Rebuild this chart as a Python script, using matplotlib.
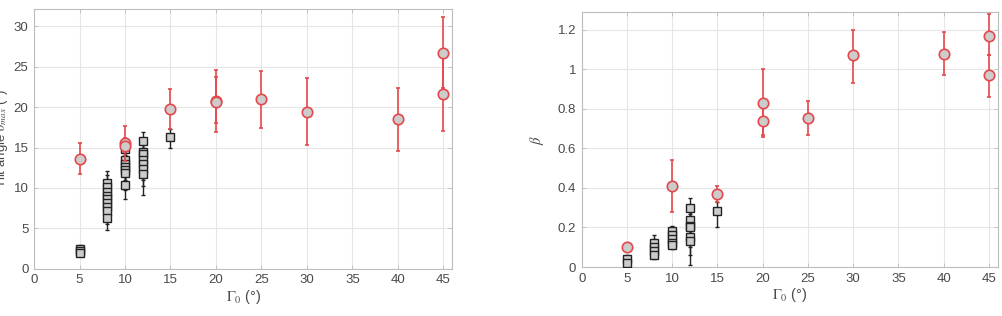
import numpy as np
import matplotlib
matplotlib.use('Agg')
from matplotlib import pyplot as plt
from matplotlib.ticker import FormatStrFormatter

plt.rcParams['font.family'] = ['Liberation Sans', 'DejaVu Sans']
plt.rcParams['mathtext.fontset'] = 'stix'

######################## left panel: tilt angle ########################
# red circles (x, y, lower end, upper end of error bar)
tilt_red_x = [5, 10, 10, 15, 20, 20, 25, 30, 40, 45, 45]
tilt_red_y = [13.6, 15.5, 15.2, 19.8, 20.8, 20.6, 21.0, 19.4, 18.5, 26.7, 21.6]
tilt_red_lo = [11.7, 13.3, 14.4, 17.3, 16.9, 18.0, 17.4, 15.3, 14.6, 22.4, 17.0]
tilt_red_hi = [15.6, 17.7, 16.2, 22.2, 24.6, 23.7, 24.4, 23.6, 22.3, 31.1, 26.2]

# black squares
tilt_blk_x = [5, 5, 5,
              8, 8, 8, 8, 8, 8, 8, 8, 8,
              10, 10, 10, 10, 10, 10, 10,
              12, 12, 12, 12, 12, 12, 12,
              15]
tilt_blk_y = [2.5, 2.2, 2.0,
              10.6, 10.1, 9.5, 9.0, 8.6, 8.2, 7.6, 7.2, 6.3,
              14.8, 13.4, 13.0, 12.6, 12.2, 11.8, 10.4,
              15.8, 14.5, 14.2, 13.5, 13.0, 12.3, 11.7,
              16.3]
tilt_blk_lo = [2.0, 1.9, 1.8,
               9.0, 8.5, 7.9, 7.5, 7.0, 6.6, 6.0, 5.6, 4.8,
               13.4, 12.0, 11.5, 11.0, 10.5, 9.8, 8.7,
               14.0, 12.8, 12.4, 11.5, 11.0, 10.2, 9.1,
               15.0]
tilt_blk_hi = [2.9, 2.6, 2.4,
               12.1, 11.6, 11.0, 10.6, 10.2, 9.8, 9.2, 8.8, 7.8,
               16.2, 14.8, 14.5, 14.1, 13.8, 13.4, 12.0,
               16.9, 15.9, 15.7, 15.0, 14.8, 14.0, 13.6,
               17.3]

######################## right panel: beta ########################
beta_red_x = [5, 10, 15, 20, 20, 25, 30, 40, 45, 45]
beta_red_y = [0.10, 0.41, 0.37, 0.83, 0.74, 0.755, 1.07, 1.08, 1.17, 0.97]
beta_red_lo = [0.08, 0.28, 0.33, 0.67, 0.66, 0.67, 0.93, 0.97, 1.07, 0.86]
beta_red_hi = [0.12, 0.54, 0.41, 1.00, 0.81, 0.84, 1.20, 1.19, 1.28, 1.07]

beta_blk_x = [5, 5,
              8, 8, 8, 8,
              10, 10, 10, 10, 10,
              12, 12, 12, 12, 12, 12,
              15]
beta_blk_y = [0.04, 0.02,
              0.12, 0.10, 0.08, 0.06,
              0.18, 0.16, 0.14, 0.12, 0.11,
              0.30, 0.24, 0.21, 0.20, 0.15, 0.13,
              0.285]
beta_blk_lo = [0.02, 0.00,
               0.09, 0.07, 0.05, 0.04,
               0.15, 0.13, 0.11, 0.10, 0.09,
               0.25, 0.17, 0.12, 0.10, 0.06, 0.01,
               0.20]
beta_blk_hi = [0.06, 0.04,
               0.16, 0.14, 0.11, 0.09,
               0.21, 0.20, 0.18, 0.15, 0.14,
               0.35, 0.31, 0.28, 0.27, 0.22, 0.19,
               0.33]

face = '#cccccc'
tickc = '#4a4a4a'
red = '#e5484c'

def draw(ax, bx, by, blo, bhi, rx, ry, rlo, rhi):
    by = np.array(by); ry = np.array(ry)
    berr = [by - np.array(blo), np.array(bhi) - by]
    rerr = [ry - np.array(rlo), np.array(rhi) - ry]
    ax.errorbar(bx, by, yerr=berr, fmt='s', color='black', ecolor='#222222',
                mfc=face, mec='#222222', ms=5.5, mew=1.0, elinewidth=1.0,
                capsize=1.5, capthick=1.0, zorder=3)
    ax.errorbar(rx, ry, yerr=rerr, fmt='o', color=red, ecolor=red,
                mfc=face, mec=red, ms=7.5, mew=1.2, elinewidth=1.2,
                capsize=1.5, capthick=1.0, zorder=4)
    ax.set_xlim(0, 46)
    ax.set_xticks(np.arange(0, 46, 5))
    ax.grid(True, color='#e6e6e6', linewidth=0.8)
    ax.set_axisbelow(True)
    for s in ax.spines.values():
        s.set_color('#bdbdbd')
        s.set_linewidth(0.8)
    ax.tick_params(direction='in', length=3, width=0.6, color='#bdbdbd',
                   labelcolor=tickc, labelsize=9.5, top=True, right=True, pad=4)
    ax.set_xlabel(r'$\Gamma_0$ (°)', fontsize=10.5, color=tickc, labelpad=1)

fig = plt.figure(figsize=(10.03, 3.16), dpi=100)

ax1 = fig.add_axes([0.034, 0.149, 0.417, 0.822])
draw(ax1, tilt_blk_x, tilt_blk_y, tilt_blk_lo, tilt_blk_hi,
     tilt_red_x, tilt_red_y, tilt_red_lo, tilt_red_hi)
ax1.set_ylim(0, 32.1)
ax1.set_yticks(np.arange(0, 31, 5))
ax1.set_ylabel(r'Tilt angle $\theta_{max}$ (°)', fontsize=9.5, color=tickc)
ax1.yaxis.set_label_coords(-0.058, 0.5)

ax2 = fig.add_axes([0.580, 0.155, 0.415, 0.807])
draw(ax2, beta_blk_x, beta_blk_y, beta_blk_lo, beta_blk_hi,
     beta_red_x, beta_red_y, beta_red_lo, beta_red_hi)
ax2.set_ylim(0, 1.29)
ax2.set_yticks([0, 0.2, 0.4, 0.6, 0.8, 1.0, 1.2])
ax2.yaxis.set_major_formatter(FormatStrFormatter('%g'))
ax2.set_ylabel(r'$\beta$', fontsize=10.5, color=tickc)
ax2.yaxis.set_label_coords(-0.085, 0.5)

fig.savefig('out.png', dpi=100)
